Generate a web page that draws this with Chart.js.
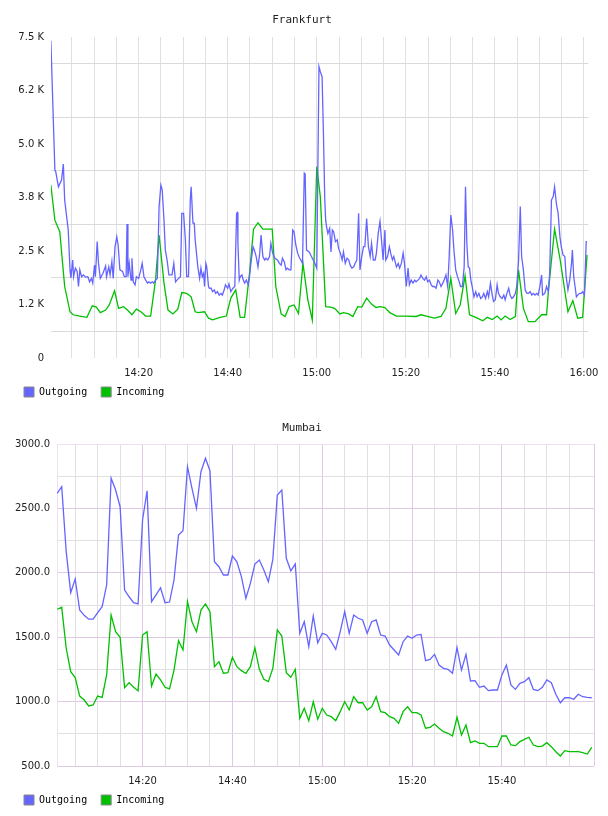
<!DOCTYPE html>
<html>
<head>
<meta charset="utf-8">
<script src="https://cdn.jsdelivr.net/npm/chart.js@4.4.1/dist/chart.umd.min.js"></script>
<style>
  html, body { margin: 0; padding: 0; background: #fff; overflow: hidden; }
  #wrap { position: relative; width: 608px; height: 816px; overflow: hidden; }
  canvas { position: absolute; left: 0; }
  #fra { top: 0; }
  #mum { top: 400px; }
</style>
</head>
<body>
<div id="wrap">
  <canvas id="fra" width="608" height="414"></canvas>
  <canvas id="mum" width="608" height="422"></canvas>
</div>
<script>
// x axis = minutes after 14:00
const timeTicks = [20, 40, 60, 80, 100, 120];
const timeLabels = ['14:20', '14:40', '15:00', '15:20', '15:40', '16:00'];
const timeGrid = [5, 10, 15, 20, 25, 30, 35, 40, 45, 50, 55, 60, 65, 70, 75, 80, 85, 90, 95, 100, 105, 110, 115, 120];

// Frankfurt
const fraYTicks = [0, 1250, 2500, 3750, 5000, 6250, 7500];
const fraYLabels = ['0', '1.2 K', '2.5 K', '3.8 K', '5.0 K', '6.2 K', '7.5 K'];
const fraYGrid = [625, 1875, 3125, 4375, 5625, 6875];

const fraOutMin = [0.3, 1.2, 1.4, 2.0, 2.7, 3.1, 3.4, 4.2, 4.6, 4.8, 5.2, 5.4, 5.8, 6.2, 6.5, 6.8, 7.2, 7.6, 8.1, 8.6,
  9.0, 9.4, 9.7, 10.1, 10.3, 10.7, 11.0, 11.4, 12.0, 12.6, 12.8, 13.3, 13.6, 14.0, 14.3, 14.7, 15.1, 15.4, 15.8, 16.4,
  16.8, 17.2, 17.4, 17.6, 17.9, 18.3, 18.5, 18.8, 19.2, 19.5, 20.0, 20.5, 20.8, 21.2, 21.6, 22.0, 22.3, 22.7, 23.1, 23.4,
  23.8, 24.2, 24.6, 25.0, 25.3, 25.7, 26.0, 26.4, 26.8, 27.2, 27.5, 27.9, 28.3, 28.6, 29.0, 29.4, 29.7, 30.1, 30.5, 30.8,
  31.2, 31.6, 31.8, 32.2, 32.5, 32.7, 33.3, 33.7, 34.0, 34.3, 34.6, 34.8, 35.1, 35.3, 35.7, 35.9, 36.3, 36.6, 37.0, 37.3,
  37.7, 38.1, 38.5, 38.8, 39.2, 39.5, 40.0, 40.3, 40.7, 41.2, 41.6, 42.0, 42.2, 42.3, 42.6, 42.8, 43.2, 43.5, 43.8, 44.2,
  44.6, 44.9, 45.3, 45.7, 46.0, 46.4, 46.8, 47.2, 47.5, 47.9, 48.3, 48.6, 49.0, 49.4, 49.7, 50.1, 50.6, 51.2, 51.6, 52.0,
  52.3, 52.7, 53.1, 53.4, 53.8, 54.2, 54.6, 54.9, 55.3, 55.7, 56.0, 56.4, 56.8, 57.2, 57.4, 57.7, 58.3, 58.8, 59.2, 59.6,
  60.0, 60.5, 60.8, 61.2, 61.5, 61.8, 62.0, 62.2, 62.5, 62.9, 63.2, 63.5, 63.8, 64.2, 64.6, 64.9, 65.3, 65.7, 66.0, 66.4,
  66.8, 67.2, 67.5, 67.9, 68.3, 68.6, 69.0, 69.4, 69.7, 70.1, 70.5, 70.8, 71.2, 71.6, 72.0, 72.3, 72.7, 73.1, 73.4, 73.8,
  74.2, 74.6, 74.9, 75.3, 75.5, 75.9, 76.3, 76.6, 77.0, 77.3, 77.9, 78.3, 78.6, 79.0, 79.4, 79.7, 80.1, 80.5, 80.8, 81.2,
  81.6, 82.0, 82.3, 82.7, 83.1, 83.4, 83.8, 84.2, 84.6, 84.9, 85.3, 85.7, 86.0, 86.4, 86.8, 87.2, 87.5, 87.9, 88.3, 88.6,
  89.0, 89.4, 89.7, 90.1, 90.5, 90.8, 91.2, 91.6, 92.0, 92.3, 92.7, 93.1, 93.4, 93.7, 94.0, 94.3, 94.6, 94.9, 95.3, 95.7,
  96.0, 96.4, 96.8, 97.2, 97.5, 97.9, 98.3, 98.6, 99.0, 99.4, 99.7, 100.1, 100.5, 100.8, 101.2, 101.6, 102.0, 102.3, 102.7, 103.1,
  103.4, 103.8, 104.2, 104.6, 104.9, 105.3, 105.7, 106.0, 106.4, 106.8, 107.2, 107.5, 107.9, 108.3, 108.6, 109.0, 109.4, 109.7, 110.1, 110.5,
  110.7, 111.2, 111.6, 112.0, 112.3, 112.7, 113.1, 113.4, 113.8, 114.2, 114.6, 114.9, 115.3, 115.7, 116.0, 116.4, 116.8, 117.2, 117.4, 117.7,
  118.0, 118.3, 118.6, 119.0, 119.4, 119.7, 120.1, 120.5, 120.7];
const fraOut = [7410, 4390, 4350, 4000, 4160, 4530, 3690, 2990, 2060, 1870, 2290, 1900, 2100, 2020, 1670, 2060, 1900, 1940, 1890, 1900,
  1780, 1860, 1750, 2170, 1900, 2720, 2210, 1860, 1980, 2150, 1900, 2130, 1940, 2250, 1860, 2600, 2830, 2640, 2060, 2020,
  1900, 1900, 3130, 1900, 2210, 1820, 2330, 1780, 1710, 1900, 1860, 2060, 2210, 1900, 1820, 1750, 1780, 1750, 1780, 1750,
  1820, 1860, 3540, 4040, 3930, 3220, 2520, 2290, 1940, 1940, 1940, 2210, 1780, 1820, 1860, 1900, 3380, 3380, 2760, 1900,
  1900, 3690, 4000, 3150, 3150, 2760, 2130, 1860, 2100, 1900, 1980, 1670, 2210, 2130, 1670, 1630, 1630, 1550, 1590, 1510,
  1550, 1470, 1510, 1470, 1590, 1710, 1630, 1730, 1550, 1630, 1670, 3380, 3400, 2680, 1820, 1900, 1940, 1820, 1750, 1820,
  1710, 1900, 2290, 2600, 2520, 2370, 2130, 2450, 2870, 2370, 2290, 2330, 2290, 2370, 2680, 2450, 2330, 2290, 2210, 2170,
  2330, 2250, 2060, 2100, 2060, 2060, 2990, 2950, 2640, 2450, 2370, 2290, 2210, 4320, 4300, 2520, 2480, 2370, 2290, 2210,
  2100, 6810, 6690, 6570, 5250, 3690, 3220, 3070, 2910, 3030, 2480, 2990, 2950, 2720, 2760, 2560, 2450, 2290, 2480, 2210,
  2330, 2290, 2170, 2100, 2130, 2210, 2290, 3380, 2060, 2370, 2600, 2600, 3260, 2600, 2370, 2680, 2290, 2290, 2450, 2910,
  3190, 2680, 2290, 2990, 2290, 2370, 2600, 2450, 2290, 2370, 2130, 2210, 2100, 2210, 2450, 2210, 1670, 2100, 1710, 1820,
  1750, 1820, 1780, 1820, 1860, 1940, 1860, 1820, 1900, 1780, 1820, 1710, 1670, 1670, 1630, 1820, 1780, 1670, 1750, 1820,
  1940, 1670, 2290, 3340, 2990, 2520, 2060, 1900, 1780, 1670, 1670, 2130, 4000, 2680, 2130, 2100, 1820, 1670, 1430, 1550,
  1430, 1510, 1390, 1430, 1510, 1390, 1550, 1430, 1750, 1470, 1320, 1360, 1710, 1510, 1430, 1390, 1470, 1360, 1510, 1630,
  1470, 1390, 1430, 1510, 1670, 2250, 3540, 2370, 2060, 1590, 1510, 1510, 1550, 1470, 1510, 1470, 1510, 1470, 1670, 1940,
  1470, 1510, 1670, 1550, 1980, 3690, 3770, 4000, 3610, 3380, 2830, 2600, 2410, 2370, 1900, 1590, 1820, 2210, 2520, 1900,
  1670, 1430, 1470, 1510, 1510, 1550, 1470, 2720, 2720];

const fraInMin = [0.3, 1.2, 2.3, 3.4, 4.6, 5.3, 6.8, 8.4, 9.6, 10.5, 11.4, 12.6, 13.4, 14.6, 15.5, 16.6, 17.5, 18.5, 19.5, 20.5,
  21.6, 22.7, 23.8, 24.6, 25.7, 26.6, 27.7, 28.8, 29.7, 30.8, 31.8, 32.7, 33.4, 34.8, 35.7, 36.6, 38.3, 39.7, 40.7, 41.8,
  42.8, 43.8, 44.9, 45.8, 46.8, 47.9, 50.0, 50.8, 52.0, 52.9, 53.8, 54.9, 55.9, 56.9, 58.0, 59.0, 60.0, 60.8, 62.0, 63.1,
  64.0, 65.2, 66.0, 67.2, 68.1, 69.2, 70.1, 71.2, 72.3, 73.3, 74.2, 75.3, 76.4, 77.9, 80.1, 82.3, 83.4, 84.6, 86.4, 87.9,
  89.0, 90.1, 91.2, 92.2, 93.3, 94.3, 95.7, 97.3, 98.3, 99.4, 100.5, 101.4, 102.3, 103.4, 104.6, 105.3, 106.4, 107.5, 109.0, 110.5,
  111.6, 112.0, 113.4, 114.6, 116.4, 117.5, 118.6, 119.7, 120.7];
const fraIn = [4040, 3220, 2950, 1670, 1080, 1010, 980, 950, 1220, 1190, 1060, 1120, 1240, 1570, 1160, 1200, 1120, 1010, 1140, 1080,
  980, 980, 1820, 2870, 1750, 1120, 1030, 1140, 1530, 1510, 1430, 1080, 1060, 1080, 930, 890, 950, 980, 1400, 1590,
  950, 950, 1980, 3010, 3160, 3010, 3010, 1670, 1030, 970, 1200, 1240, 1040, 2210, 1360, 890, 4470, 3770, 1200, 1190,
  1160, 1030, 1060, 1030, 970, 1200, 1190, 1400, 1260, 1180, 1200, 1180, 1060, 980, 980, 970, 1010, 980, 930, 970,
  1160, 1860, 1040, 1240, 1920, 1010, 950, 870, 950, 900, 980, 890, 980, 900, 970, 2060, 1160, 850, 850, 1010,
  1010, 1550, 3010, 2330, 1080, 1340, 930, 950, 2410];

// Mumbai, one sample a minute from 14:01
const mumYTicks = [500, 1000, 1500, 2000, 2500, 3000];
const mumYLabels = ['500.0', '1000.0', '1500.0', '2000.0', '2500.0', '3000.0'];
const mumYGrid = [750, 1250, 1750, 2250, 2750];

const mumOut = [2617, 2669, 2164, 1846, 1952, 1711, 1670, 1640, 1640, 1690,
  1737, 1905, 2734, 2643, 2513, 1866, 1814, 1768, 1758, 2410,
  2637, 1776, 1828, 1884, 1768, 1773, 1944, 2293, 2327, 2824,
  2656, 2501, 2785, 2889, 2793, 2086, 2047, 1983, 1983, 2130,
  2086, 1970, 1802, 1918, 2068, 2099, 2022, 1931, 2104, 2604,
  2643, 2113, 2016, 2068, 1530, 1620, 1426, 1665, 1457, 1530,
  1517, 1465, 1406, 1543, 1698, 1530, 1672, 1647, 1634, 1530,
  1620, 1634, 1517, 1509, 1439, 1401, 1362, 1465, 1509, 1491,
  1517, 1522, 1318, 1328, 1367, 1284, 1258, 1251, 1220, 1419,
  1245, 1367, 1160, 1163, 1111, 1121, 1085, 1090, 1090, 1207,
  1284, 1129, 1095, 1142, 1155, 1186, 1095, 1085, 1111, 1168,
  1147, 1057, 991, 1030, 1030, 1018, 1057, 1038, 1033, 1030];
const mumIn = [1717, 1732, 1414, 1232, 1186, 1043, 1012, 966, 974, 1043,
  1033, 1207, 1672, 1543, 1499, 1108, 1147, 1111, 1085, 1517,
  1543, 1121, 1214, 1168, 1111, 1098, 1245, 1473, 1401, 1776,
  1620, 1543, 1711, 1758, 1698, 1271, 1310, 1220, 1225, 1344,
  1271, 1240, 1220, 1271, 1419, 1251, 1173, 1155, 1258, 1556,
  1509, 1225, 1189, 1251, 870, 948, 852, 999, 863, 948,
  896, 883, 852, 922, 999, 935, 1038, 991, 991, 935,
  960, 1038, 922, 914, 883, 870, 831, 922, 960, 914,
  914, 896, 793, 800, 826, 793, 766, 754, 733, 878,
  741, 818, 681, 694, 676, 676, 650, 650, 650, 733,
  733, 663, 658, 689, 707, 723, 663, 650, 655, 681,
  650, 611, 578, 619, 611, 611, 611, 603, 593, 645];
const mumMin = mumOut.map((_, i) => i + 1);

const BLUE = 'rgb(100, 100, 255)';
const GREEN = 'rgb(0, 192, 0)';
const GRAY = 'rgb(224, 224, 224)';
const PINK = 'rgb(222, 200, 228)';
const PINK_LIGHT = 'rgb(238, 224, 240)';
const TEXT = '#222';

Chart.defaults.animation = false;
Chart.defaults.font.family = 'DejaVu Sans';
Chart.defaults.font.size = 10;

// legend sits a bit closer to the tick labels than chart.js would put it
const legendLift = {
  id: 'legendLift',
  afterLayout(chart) {
    chart.legend.top -= 7;
    chart.legend.bottom -= 7;
  }
};

const pts = (xs, ys) => xs.map((x, i) => ({ x, y: ys[i] }));

function lineSet(label, data, color) {
  return { label, data, borderColor: color, backgroundColor: color, borderWidth: 1.3,
           pointRadius: 0, tension: 0, fill: false };
}

function legendOpts() {
  return {
    position: 'bottom', align: 'start',
    labels: {
      boxWidth: 10, boxHeight: 10, padding: 14, color: '#000',
      font: { family: 'DejaVu Sans Mono', size: 10 },
      generateLabels: chart => Chart.defaults.plugins.legend.labels.generateLabels(chart).map(it => {
        it.strokeStyle = '#888';
        it.lineWidth = 1;
        return it;
      })
    }
  };
}

function titleOpts(text, top, bottom) {
  return { display: true, text, color: TEXT,
           font: { family: 'DejaVu Sans Mono', size: 11, weight: 'normal' },
           padding: { top, bottom } };
}

// Frankfurt
new Chart(document.getElementById('fra'), {
  type: 'line',
  data: { datasets: [lineSet('Outgoing', pts(fraOutMin, fraOut), BLUE),
                     lineSet('Incoming', pts(fraInMin, fraIn), GREEN)] },
  plugins: [legendLift],
  options: {
    responsive: false,
    devicePixelRatio: 1,
    layout: { padding: { left: 10, right: 14, top: 0, bottom: 0 } },
    plugins: {
      title: titleOpts('Frankfurt', 13.9, 9.9),
      legend: legendOpts(),
      tooltip: { enabled: false }
    },
    scales: {
      x: {
        type: 'linear', min: 0.33, max: 121,
        afterBuildTicks: s => { s.ticks = timeGrid.map(v => ({ value: v })); },
        afterFit: s => { s.height = 22; },
        border: { display: false },
        grid: { color: GRAY, drawTicks: false },
        ticks: {
          autoSkip: false, maxRotation: 0, minRotation: 0, padding: 9.5, color: TEXT,
          callback: v => { const i = timeTicks.indexOf(v); return i >= 0 ? timeLabels[i] : ''; }
        }
      },
      y: {
        min: 0, max: 7500,
        afterBuildTicks: s => { s.ticks = fraYTicks.concat(fraYGrid).sort((a, b) => a - b).map(v => ({ value: v })); },
        afterFit: s => { s.width = 41; },
        border: { display: false },
        grid: { drawTicks: false, color: c => fraYGrid.includes(c.tick.value) ? 'rgb(218, 218, 218)' : 'rgba(0,0,0,0)' },
        ticks: {
          padding: 7, color: TEXT,
          callback: v => { const i = fraYTicks.indexOf(v); return i >= 0 ? fraYLabels[i] : ''; }
        }
      }
    }
  }
});

// Mumbai
const mumX = timeGrid.filter(v => v < 120).concat([120.5]);
new Chart(document.getElementById('mum'), {
  type: 'line',
  data: { datasets: [lineSet('Outgoing', pts(mumMin, mumOut), BLUE),
                     lineSet('Incoming', pts(mumMin, mumIn), GREEN)] },
  plugins: [legendLift],
  options: {
    responsive: false,
    devicePixelRatio: 1,
    layout: { padding: { left: 10, right: 14, top: 0, bottom: 0 } },
    plugins: {
      title: titleOpts('Mumbai', 21.9, 8.9),
      legend: legendOpts(),
      tooltip: { enabled: false }
    },
    scales: {
      x: {
        type: 'linear', min: 0.95, max: 120.5,
        afterBuildTicks: s => { s.ticks = mumX.map(v => ({ value: v })); },
        afterFit: s => { s.height = 22; },
        border: { display: false },
        grid: { drawTicks: false,
                color: c => (timeTicks.includes(c.tick.value) || c.tick.value > 120) ? PINK : GRAY },
        ticks: {
          autoSkip: false, maxRotation: 0, minRotation: 0, padding: 9.5, color: TEXT,
          callback: v => { const i = timeTicks.indexOf(v); return (i >= 0 && v < 120) ? timeLabels[i] : ''; }
        }
      },
      y: {
        min: 500, max: 3000,
        afterBuildTicks: s => { s.ticks = mumYTicks.concat(mumYGrid).sort((a, b) => a - b).map(v => ({ value: v })); },
        afterFit: s => { s.width = 47; },
        border: { display: true, color: PINK_LIGHT, width: 1 },
        grid: { drawTicks: false,
                color: c => c.tick.value === 3000 ? PINK_LIGHT : (mumYTicks.includes(c.tick.value) ? PINK : GRAY) },
        ticks: {
          padding: 7, color: TEXT,
          callback: v => { const i = mumYTicks.indexOf(v); return i >= 0 ? mumYLabels[i] : ''; }
        }
      }
    }
  }
});
</script>
</body>
</html>
